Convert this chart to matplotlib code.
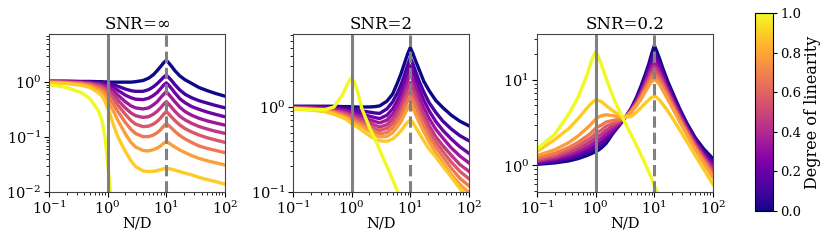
import numpy as np
import matplotlib
matplotlib.use("Agg")
import matplotlib.pyplot as plt
from matplotlib import cm, colors

plt.rcParams['font.family'] = ['DejaVu Serif']
plt.rcParams['mathtext.fontset'] = 'dejavuserif'

nan = np.nan

# degree of linearity of each curve
linearity = [0.0, 1/9, 2/9, 3/9, 4/9, 5/9, 6/9, 7/9, 8/9, 1.0]

# N/D values where the curves were read
n_over_d = [0.1, 0.2, 0.35, 0.5, 0.7, 0.8, 0.9, 1.0, 1.1, 1.25, 1.5, 2, 2.5, 3,
            4, 5, 6, 7, 8, 9, 10, 11, 12.5, 14, 17, 21, 27, 36, 50, 70, 100]

titles = ["SNR=$\\infty$", "SNR=2", "SNR=0.2"]

# SNR = inf, one row per linearity level
err_snr_inf = [
    [1.04, 1.04, 1.03, 1.03, 1.02, 1.02, 1.01, 1.01, 1.0, 1.0, 1.0, 1.0, 1.0, 1.02,
     1.07, 1.18, 1.36, 1.62, 1.92, 2.25, 2.5, 2.25, 1.9, 1.62, 1.3, 1.1, 0.95, 0.8, 0.7, 0.62, 0.556],
    [1.03, 1.03, 1.02, 1.01, 0.99, 0.985, 0.97, 0.96, 0.94, 0.9, 0.84, 0.75, 0.7, 0.68,
     0.68, 0.73, 0.82, 0.94, 1.08, 1.23, 1.34, 1.22, 1.05, 0.9, 0.72, 0.6, 0.52, 0.46, 0.415, 0.375, 0.341],
    [1.03, 1.02, 1.01, 0.99, 0.96, 0.94, 0.92, 0.9, 0.86, 0.8, 0.71, 0.58, 0.52, 0.49,
     0.48, 0.51, 0.57, 0.65, 0.76, 0.88, 0.97, 0.88, 0.75, 0.64, 0.5, 0.42, 0.36, 0.32, 0.285, 0.258, 0.234],
    [1.02, 1.01, 0.99, 0.97, 0.92, 0.89, 0.86, 0.82, 0.77, 0.7, 0.58, 0.44, 0.37, 0.34,
     0.325, 0.34, 0.385, 0.44, 0.52, 0.6, 0.67, 0.6, 0.51, 0.44, 0.35, 0.29, 0.25, 0.22, 0.197, 0.18, 0.165],
    [1.02, 1.0, 0.98, 0.95, 0.88, 0.84, 0.79, 0.74, 0.68, 0.6, 0.47, 0.34, 0.275, 0.245,
     0.228, 0.235, 0.26, 0.295, 0.34, 0.395, 0.44, 0.4, 0.34, 0.295, 0.24, 0.205, 0.178, 0.156, 0.14, 0.127, 0.117],
    [1.01, 0.99, 0.96, 0.92, 0.84, 0.79, 0.73, 0.66, 0.59, 0.5, 0.38, 0.26, 0.2, 0.172,
     0.155, 0.158, 0.172, 0.193, 0.222, 0.26, 0.29, 0.265, 0.228, 0.2, 0.166, 0.142, 0.124, 0.109, 0.097, 0.088, 0.080],
    [1.0, 0.98, 0.94, 0.89, 0.78, 0.72, 0.65, 0.57, 0.49, 0.4, 0.29, 0.185, 0.138, 0.116,
     0.102, 0.102, 0.109, 0.12, 0.136, 0.158, 0.177, 0.163, 0.143, 0.127, 0.107, 0.092, 0.08, 0.069, 0.062, 0.057, 0.052],
    [0.99, 0.96, 0.91, 0.85, 0.72, 0.65, 0.56, 0.47, 0.39, 0.3, 0.2, 0.115, 0.08, 0.066,
     0.057, 0.056, 0.059, 0.063, 0.069, 0.077, 0.082, 0.078, 0.071, 0.066, 0.058, 0.052, 0.046, 0.041, 0.037, 0.034, 0.031],
    [0.97, 0.94, 0.88, 0.8, 0.64, 0.56, 0.45, 0.34, 0.26, 0.17, 0.1, 0.055, 0.037, 0.029,
     0.0242, 0.0235, 0.0238, 0.0245, 0.0255, 0.0265, 0.027, 0.0266, 0.0258, 0.025, 0.0235, 0.022, 0.0205, 0.0185, 0.0168, 0.0154, 0.014],
    [0.9, 0.8, 0.65, 0.5, 0.3, 0.2, 0.1, 0.035, 0.012, 0.002, nan, nan, nan, nan,
     nan, nan, nan, nan, nan, nan, nan, nan, nan, nan, nan, nan, nan, nan, nan, nan, nan],
]

# SNR = 2
err_snr_2 = [
    [1.02, 1.02, 1.02, 1.02, 1.01, 1.01, 1.01, 1.0, 1.0, 1.0, 1.0, 1.0, 1.01, 1.03,
     1.17, 1.42, 1.9, 2.5, 3.3, 4.2, 5.0, 4.3, 3.4, 2.8, 2.0, 1.55, 1.2, 0.98, 0.8, 0.68, 0.6],
    [1.01, 1.01, 1.0, 0.99, 0.97, 0.965, 0.955, 0.95, 0.94, 0.925, 0.9, 0.87, 0.85, 0.84,
     0.95, 1.15, 1.45, 1.85, 2.4, 3.1, 3.8, 3.25, 2.55, 2.05, 1.5, 1.12, 0.87, 0.68, 0.55, 0.46, 0.4],
    [1.0, 1.0, 0.98, 0.96, 0.94, 0.93, 0.91, 0.9, 0.885, 0.865, 0.83, 0.78, 0.75, 0.73,
     0.8, 0.95, 1.18, 1.5, 1.95, 2.5, 3.05, 2.6, 2.05, 1.65, 1.2, 0.9, 0.68, 0.53, 0.42, 0.34, 0.285],
    [0.99, 0.98, 0.96, 0.94, 0.91, 0.895, 0.87, 0.85, 0.83, 0.8, 0.77, 0.71, 0.675, 0.65,
     0.7, 0.82, 1.0, 1.26, 1.6, 2.05, 2.45, 2.1, 1.65, 1.33, 0.98, 0.73, 0.55, 0.43, 0.33, 0.265, 0.22],
    [0.98, 0.97, 0.94, 0.91, 0.87, 0.855, 0.825, 0.8, 0.78, 0.75, 0.72, 0.65, 0.61, 0.58,
     0.62, 0.72, 0.87, 1.07, 1.35, 1.68, 1.95, 1.7, 1.35, 1.1, 0.81, 0.6, 0.45, 0.35, 0.27, 0.21, 0.175],
    [0.97, 0.96, 0.93, 0.89, 0.84, 0.82, 0.79, 0.76, 0.74, 0.71, 0.67, 0.6, 0.555, 0.53,
     0.56, 0.64, 0.76, 0.93, 1.15, 1.4, 1.6, 1.42, 1.14, 0.93, 0.69, 0.52, 0.39, 0.3, 0.225, 0.175, 0.143],
    [0.97, 0.95, 0.91, 0.87, 0.81, 0.785, 0.75, 0.72, 0.7, 0.665, 0.63, 0.56, 0.51, 0.485,
     0.5, 0.57, 0.67, 0.8, 0.98, 1.18, 1.33, 1.2, 0.97, 0.8, 0.6, 0.45, 0.34, 0.26, 0.19, 0.145, 0.118],
    [0.96, 0.94, 0.9, 0.85, 0.78, 0.75, 0.715, 0.68, 0.66, 0.625, 0.59, 0.52, 0.47, 0.445,
     0.45, 0.5, 0.58, 0.68, 0.82, 0.97, 1.08, 0.98, 0.8, 0.67, 0.51, 0.39, 0.29, 0.22, 0.16, 0.123, 0.098],
    [0.95, 0.92, 0.88, 0.82, 0.75, 0.72, 0.675, 0.64, 0.615, 0.58, 0.53, 0.46, 0.42, 0.40,
     0.395, 0.42, 0.47, 0.53, 0.6, 0.66, 0.7, 0.66, 0.57, 0.5, 0.4, 0.32, 0.26, 0.2, 0.15, 0.11, 0.082],
    [0.96, 0.93, 0.93, 1.0, 1.4, 1.7, 2.02, 2.2, 2.0, 1.55, 0.95, 0.58, 0.42, 0.31,
     0.2, 0.14, 0.104, 0.08, nan, nan, nan, nan, nan, nan, nan, nan, nan, nan, nan, nan, nan],
]

# SNR = 0.2
err_snr_02 = [
    [1.03, 1.07, 1.13, 1.2, 1.3, 1.35, 1.4, 1.45, 1.5, 1.6, 1.8, 2.4, 2.9, 3.4,
     4.6, 6.3, 8.6, 11.5, 15, 20, 25, 21.5, 17, 13.5, 9.5, 6.8, 4.6, 3.1, 2.1, 1.55, 1.2],
    [1.06, 1.11, 1.2, 1.28, 1.4, 1.45, 1.52, 1.58, 1.63, 1.72, 1.95, 2.45, 2.95, 3.42,
     4.5, 6.0, 8.0, 10.5, 13.5, 17.5, 21, 18.5, 15, 12.2, 8.7, 6.3, 4.35, 2.95, 2.0, 1.45, 1.1],
    [1.08, 1.15, 1.26, 1.36, 1.5, 1.56, 1.64, 1.72, 1.78, 1.88, 2.1, 2.55, 3.0, 3.44,
     4.45, 5.8, 7.6, 9.8, 12.5, 15.6, 18.3, 16.4, 13.6, 11.2, 8.1, 5.9, 4.1, 2.8, 1.9, 1.38, 1.02],
    [1.11, 1.2, 1.33, 1.45, 1.62, 1.7, 1.8, 1.9, 1.97, 2.07, 2.3, 2.7, 3.08, 3.46,
     4.4, 5.6, 7.2, 9.2, 11.5, 14, 16, 14.6, 12.3, 10.3, 7.6, 5.6, 3.9, 2.7, 1.82, 1.31, 0.95],
    [1.14, 1.25, 1.41, 1.56, 1.77, 1.87, 1.98, 2.1, 2.18, 2.3, 2.55, 2.9, 3.2, 3.48,
     4.35, 5.45, 6.9, 8.7, 10.6, 12.7, 14.3, 13.2, 11.3, 9.6, 7.2, 5.3, 3.75, 2.6, 1.75, 1.25, 0.89],
    [1.18, 1.31, 1.51, 1.7, 1.95, 2.07, 2.2, 2.35, 2.45, 2.58, 2.85, 3.1, 3.3, 3.5,
     4.3, 5.3, 6.6, 8.2, 9.9, 11.6, 12.8, 12.0, 10.4, 8.9, 6.8, 5.05, 3.6, 2.5, 1.68, 1.19, 0.83],
    [1.23, 1.38, 1.62, 1.86, 2.18, 2.33, 2.52, 2.7, 2.82, 2.95, 3.2, 3.35, 3.45, 3.52,
     4.25, 5.15, 6.3, 7.7, 9.2, 10.6, 11.5, 10.9, 9.6, 8.3, 6.4, 4.8, 3.45, 2.4, 1.6, 1.13, 0.78],
    [1.3, 1.52, 1.85, 2.2, 2.7, 2.93, 3.2, 3.45, 3.62, 3.8, 3.9, 3.8, 3.65, 3.55,
     4.15, 5.0, 6.0, 7.2, 8.4, 9.5, 10.0, 9.6, 8.6, 7.5, 5.9, 4.5, 3.25, 2.28, 1.52, 1.06, 0.72],
    [1.45, 2.0, 2.7, 3.5, 4.6, 5.1, 5.5, 5.8, 5.75, 5.55, 5.0, 4.3, 3.9, 3.65,
     3.7, 4.2, 4.75, 5.3, 5.8, 6.2, 6.4, 6.2, 5.7, 5.15, 4.3, 3.45, 2.6, 1.9, 1.3, 0.9, 0.6],
    [1.55, 2.3, 4.0, 6.2, 11, 14.5, 18.5, 21, 19, 15, 10.5, 6.2, 4.4, 3.4,
     2.3, 1.7, 1.3, 1.05, 0.85, 0.7, 0.58, 0.5, 0.43, nan, nan, nan, nan, nan, nan, nan, nan],
]

panels = [err_snr_inf, err_snr_2, err_snr_02]
ylims = [(0.01, 7.5), (0.1, 7.2), (0.49, 34)]
lefts = [0.059, 0.353, 0.647]

fig = plt.figure(figsize=(8.3, 2.4), dpi=100)
cmap = plt.get_cmap('plasma')

for p in range(3):
    ax = fig.add_axes([lefts[p], 0.2, 0.212, 0.658])
    for k in range(len(linearity)):
        ax.plot(n_over_d, panels[p][k], color=cmap(linearity[k]), lw=2.4,
                solid_joinstyle='round')
    ax.axvline(1, color='gray', lw=2.2)
    ax.axvline(10, color='gray', lw=2.2, ls='--')
    ax.set_xscale('log')
    ax.set_yscale('log')
    ax.set_xlim(0.1, 100)
    ax.set_ylim(*ylims[p])
    ax.set_title(titles[p], fontsize=12, pad=4)
    ax.set_xlabel('N/D', fontsize=10.5, labelpad=0)
    ax.tick_params(labelsize=10.5, pad=2)
    for s in ax.spines.values():
        s.set_color('#444444')

cax = fig.add_axes([0.9096, 0.121, 0.022, 0.825])
cb = fig.colorbar(cm.ScalarMappable(norm=colors.Normalize(0, 1), cmap=cmap), cax=cax)
cb.set_ticks([0.0, 0.2, 0.4, 0.6, 0.8, 1.0])
cb.ax.tick_params(labelsize=9.5, pad=2, length=3)
cb.set_label('Degree of linearity', fontsize=11.5, labelpad=2)

fig.savefig('out.png', dpi=100)
